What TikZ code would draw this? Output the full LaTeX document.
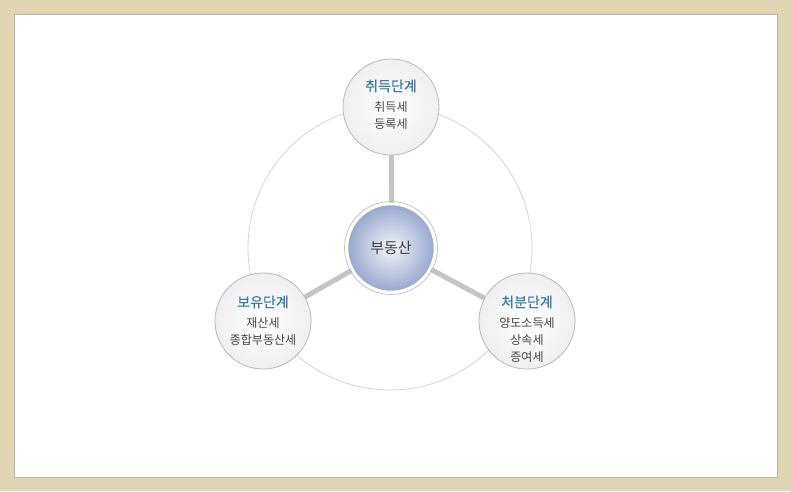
\documentclass[tikz,border=0pt]{standalone}
\usepackage{fontspec}
\setmainfont{Noto Sans CJK KR}
\newfontfamily\stagefont[FakeBold=0.5]{Noto Sans CJK KR}
\usetikzlibrary{positioning,backgrounds}
\pgfdeclarelayer{frame}
\pgfsetlayers{frame,background,main}

\definecolor{framebeige}{RGB}{224,214,180}
\definecolor{stagecol}{RGB}{58,126,160}
\definecolor{taxcol}{RGB}{70,70,70}
\definecolor{linkgray}{RGB}{196,196,196}
\definecolor{ringgray}{RGB}{214,214,214}
\definecolor{coreblue}{RGB}{152,167,205}

\tikzset{
  stage/.style={circle, minimum size=96pt, inner sep=0pt, draw=gray!55,
    line width=0.8pt, shade, inner color=white, outer color=gray!12},
  core/.style={circle, minimum size=88pt, inner sep=0pt, shade,
    inner color=coreblue!12, outer color=coreblue, draw=white, line width=2.5pt,
    font=\fontsize{15}{17}\selectfont, text=black!75},
  stagename/.style={font=\stagefont\fontsize{14}{16}\selectfont, text=stagecol,
    inner sep=0pt},
  taxes/.style={font=\fontsize{12}{17}\selectfont, text=taxcol, align=center,
    inner sep=0pt},
  link/.style={linkgray, line width=5pt},
}

\begin{document}
\begin{tikzpicture}[x=1pt, y=-1pt]
  \useasboundingbox (0,0) rectangle (791,491);
  \begin{pgfonlayer}{frame}
    \fill [framebeige] (0,0) rectangle (791,491);
    \fill [white] (14,14) rectangle (777,477);
    \draw [framebeige!85!black, line width=0.4pt] (14,14) rectangle (777,477);
    \draw [ringgray, line width=0.8pt] (390,248) circle (142);
  \end{pgfonlayer}

  % center and the three stages
  \node [core] (estate) at (391,248) {부동산};
  \draw [gray!50, line width=0.7pt] (estate) circle (46.5);

  \node [stage] (buy) at (391,107) {};
  \node [stagename] (buyT) at ([yshift=21pt]buy.center) {취득단계};
  \node [taxes, below=9pt of buyT] {취득세\\등록세};

  \node [stage] (hold) at (263,321) {};
  \node [stagename] (holdT) at ([yshift=19pt]hold.center) {보유단계};
  \node [taxes, below=9pt of holdT] {재산세\\종합부동산세};

  \node [stage] (sell) at (527,321) {};
  \node [stagename] (sellT) at ([yshift=19pt]sell.center) {처분단계};
  \node [taxes, below=9pt of sellT] {양도소득세\\상속세\\증여세};

  \begin{scope}[on background layer]
    \draw [link] (estate) -- (buy);
    \draw [link] (estate) -- (hold);
    \draw [link] (estate) -- (sell);
  \end{scope}
\end{tikzpicture}
\end{document}
